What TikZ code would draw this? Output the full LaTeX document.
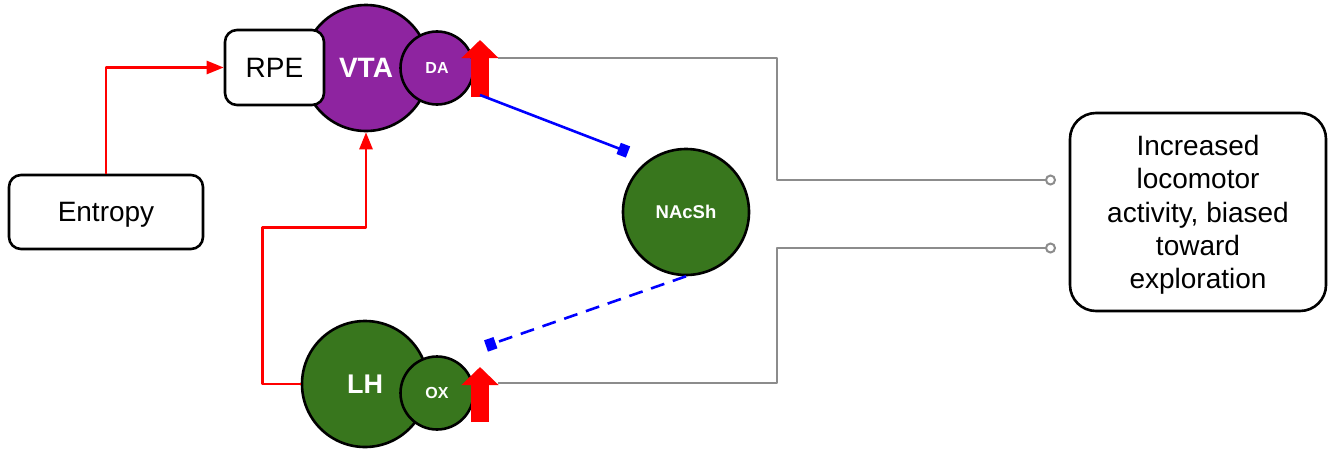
\documentclass[tikz,border=0pt]{standalone}
\usepackage{fontspec}
\setmainfont{Liberation Sans}
\usepackage{xcolor}
\usetikzlibrary{arrows.meta,positioning,calc}
\definecolor{vtapurple}{RGB}{142,36,160}
\definecolor{nucgreen}{RGB}{56,118,29}
\tikzset{
  drv/.style={x=1pt, y=-1pt, line join=round},
  d box/.style={draw, line width=2.6pt, rounded corners=12pt, align=center, fill=white,
                font=\fontsize{28}{33.3}\selectfont, inner sep=2pt, text depth=0pt},
  d nuc/.style={circle, draw, line width=2.6pt, text=white, inner sep=0pt},
  d big/.style={d nuc, minimum size=126pt, font=\fontsize{28}{30}\selectfont\bfseries},
  d small/.style={d nuc, minimum size=73pt, font=\fontsize{16}{18}\selectfont\bfseries},
  d up/.style={red, line width=18pt, -{Triangle[length=18pt, width=36pt]}},
  d exc/.style={red, line width=2.6pt, -{Triangle[length=17pt, width=13pt]}},
  d inh/.style={blue, line width=2.6pt, -{Square[length=10pt, width=12pt]}},
  d out/.style={black!45, line width=2pt, -{Circle[open, length=11pt, width=11pt]}},
}

\begin{document}
\begin{tikzpicture}[drv]
\useasboundingbox (0,0) rectangle (1332,455);
% ---- VTA side ----
\node[d big, fill=vtapurple] (VTA) at (366,68) {VTA};
\node[d box, minimum width=99pt, minimum height=75pt] (RPE) at (274.5,67.5) {RPE};
\node[d small, fill=vtapurple] (DA) at (437,68) {DA};
\draw[d up] (480,97) -- (480,40) coordinate (daup);
% ---- LH side ----
\node[d big, fill=nucgreen, font=\fontsize{27}{30}\selectfont\bfseries] (LH) at (365,384) {LH};
\node[d small, fill=nucgreen] (OX) at (437,393) {OX};
\draw[d up] (480,422) -- (480,367) coordinate (oxup);
% ---- nucleus + inputs ----
\node[d big, fill=nucgreen, font=\fontsize{18.5}{20}\selectfont\bfseries] (NAcSh) at (686,212) {NAcSh};
\node[d box, minimum width=194pt, minimum height=74pt] (ent) at (106,212) {Entropy};
\node[d box, rounded corners=26pt, minimum width=256pt, minimum height=198pt] (out) at (1198,212)
  {Increased\\locomotor\\activity, biased\\toward\\exploration};
% ---- excitatory (red) ----
\draw[d exc] (ent.north) |- (RPE.west);
\draw[d exc] (LH.west) -- ++(-38,0) |- ($(VTA.south)+(0,95)$) -- (VTA.south);
% ---- inhibitory (blue) ----
\coordinate (daout) at (480,95); \coordinate (nacin) at (628,152); \coordinate (lhin) at (486,346);
\draw[d inh] (daout) -- (nacin);
\draw[d inh, dash pattern=on 14pt off 9pt] (NAcSh.south) -- (lhin);
% ---- outputs ----
\coordinate (o1) at (1056,180); \coordinate (o2) at (1056,248);
\draw[d out] ($(daup)+(18,18)$) -| (777,180) -- (o1);
\draw[d out] ($(oxup)+(18,16)$) -| (777,248) -- (o2);
\end{tikzpicture}
\end{document}
